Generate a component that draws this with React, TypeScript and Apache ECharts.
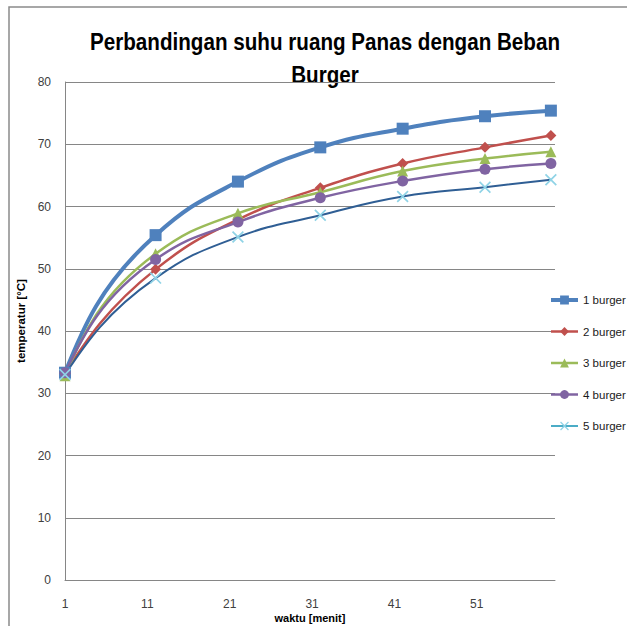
import React, { useEffect, useRef } from "react";
import * as echarts from "echarts";

const time = [1, 12, 22, 32, 42, 52, 60];
const burger1 = [33.3, 55.4, 64.0, 69.5, 72.5, 74.5, 75.4];
const burger2 = [33.2, 49.9, 57.9, 63.0, 66.9, 69.5, 71.4];
const burger3 = [32.8, 52.4, 58.9, 62.3, 65.7, 67.7, 68.8];
const burger4 = [33.3, 51.5, 57.5, 61.4, 64.1, 66.0, 66.9];
const burger5 = [33.0, 48.5, 55.1, 58.6, 61.6, 63.1, 64.3];
const seriesNames = ["1 burger", "2 burger", "3 burger", "4 burger", "5 burger"];
const yTicks = [0, 10, 20, 30, 40, 50, 60, 70, 80];
const titleLines = ["Perbandingan suhu ruang Panas dengan Beban", "Burger"];

const crossPath =
  "path://M0,1L1,0L5,4L9,0L10,1L6,5L10,9L9,10L5,6L1,10L0,9L4,5Z";

const pairs = (ys: number[]) => time.map((t, i) => [t, ys[i]]);

// Excel-like smoothed curve drawn through the axis scales (api.coord)
const K = 0.45;
function curveSeries(ys: number[], color: string, width: number) {
  return {
    type: "custom",
    name: "curve",
    coordinateSystem: "cartesian2d",
    silent: true,
    z: 2,
    data: pairs(ys),
    encode: { x: 0, y: 1 },
    renderItem: (params: any, api: any) => {
      const i = params.dataIndex;
      const n = ys.length;
      if (i >= n - 1) return null;
      const P = time.map((t, j) => api.coord([t, ys[j]]));
      const dist = (a: number[], b: number[]) => Math.hypot(b[0] - a[0], b[1] - a[1]);
      const tangent = (j: number) => {
        const d1 = dist(P[j - 1], P[j]);
        const d2 = dist(P[j], P[j + 1]);
        const u1 = [(P[j][0] - P[j - 1][0]) / d1, (P[j][1] - P[j - 1][1]) / d1];
        const u2 = [(P[j + 1][0] - P[j][0]) / d2, (P[j + 1][1] - P[j][1]) / d2];
        const tx = u1[0] * d2 + u2[0] * d1;
        const ty = u1[1] * d2 + u2[1] * d1;
        const l = Math.hypot(tx, ty) || 1;
        return [tx / l, ty / l];
      };
      const a = P[i];
      const b = P[i + 1];
      const seg = dist(a, b);
      let c1: number[] | null = null;
      let c2: number[] | null = null;
      if (i > 0) {
        const t = tangent(i);
        c1 = [a[0] + t[0] * K * seg, a[1] + t[1] * K * seg];
      }
      if (i + 1 < n - 1) {
        const t = tangent(i + 1);
        c2 = [b[0] - t[0] * K * seg, b[1] - t[1] * K * seg];
      }
      if (!c1 && c2) c1 = [(a[0] + c2[0]) / 2, (a[1] + c2[1]) / 2];
      if (!c2 && c1) c2 = [(b[0] + c1[0]) / 2, (b[1] + c1[1]) / 2];
      if (!c1 || !c2) {
        c1 = a;
        c2 = b;
      }
      return {
        type: "bezierCurve",
        shape: {
          x1: a[0],
          y1: a[1],
          cpx1: c1[0],
          cpy1: c1[1],
          cpx2: c2[0],
          cpy2: c2[1],
          x2: b[0],
          y2: b[1],
        },
        style: { stroke: color, lineWidth: width, fill: null, lineCap: "round" },
      };
    },
  };
}

export default function App() {
  const ref = useRef<HTMLDivElement>(null);
  useEffect(() => {
    if (!ref.current) return;
    const chart = echarts.init(ref.current, undefined, { renderer: "svg" });
    const font = "'Liberation Sans', Arial, sans-serif";
    const mk = (
      name: string,
      data: number[],
      color: string,
      symbol: string,
      size: number
    ) => ({
      name,
      type: "line",
      z: 3,
      data: pairs(data),
      symbol,
      symbolSize: size,
      showAllSymbol: true,
      itemStyle: { color },
      lineStyle: { color, width: 0, opacity: 0 },
      emphasis: { disabled: true },
    });
    const specs = [
      { name: seriesNames[0], data: burger1, color: "#4F81BD", line: "#4F81BD", w: 4, sym: "rect", size: 12 },
      { name: seriesNames[1], data: burger2, color: "#C0504D", line: "#C0504D", w: 2.5, sym: "diamond", size: 11 },
      { name: seriesNames[2], data: burger3, color: "#9BBB59", line: "#9BBB59", w: 2.5, sym: "triangle", size: 11 },
      { name: seriesNames[3], data: burger4, color: "#8064A2", line: "#8064A2", w: 2.5, sym: "circle", size: 11 },
      { name: seriesNames[4], data: burger5, color: "#8FD3E6", line: "#2F5E94", w: 2, sym: crossPath, size: 12 },
    ];
    const legendLine = ["#4F81BD", "#C0504D", "#9BBB59", "#8064A2", "#4BACC6"];
    chart.setOption({
      animation: false,
      backgroundColor: "#ffffff",
      graphic: [
        {
          type: "rect",
          shape: { x: 9, y: 7, width: 700, height: 700 },
          style: { fill: "none", stroke: "#8a8a8a", lineWidth: 1.5 },
          silent: true,
        },
        {
          type: "text",
          x: 325,
          y: 42,
          scaleX: 0.86,
          silent: true,
          style: {
            text: titleLines[0],
            fontFamily: "'Liberation Sans', Arial, sans-serif",
            fontSize: 24,
            fontWeight: "bold",
            fill: "#000000",
            align: "center",
            verticalAlign: "middle",
          },
        },
        {
          type: "text",
          x: 325,
          y: 75,
          scaleX: 0.86,
          silent: true,
          style: {
            text: titleLines[1],
            fontFamily: "'Liberation Sans', Arial, sans-serif",
            fontSize: 24,
            fontWeight: "bold",
            fill: "#000000",
            align: "center",
            verticalAlign: "middle",
          },
        },
      ],
      legend: {
        orient: "vertical",
        left: 549,
        top: 294,
        padding: 0,
        itemWidth: 27,
        itemHeight: 11,
        itemGap: 19.5,
        textStyle: { fontFamily: font, fontSize: 11.5, color: "#1a1a1a" },
        data: specs.map((s, i) => ({
          name: s.name,
          lineStyle: { color: legendLine[i], width: s.w, opacity: 1 },
        })),
      },
      grid: {
        left: 65,
        right: 72,
        top: 82,
        bottom: 46,
        containLabel: false,
        outerBoundsMode: "none",
      },
      xAxis: {
        type: "value",
        min: 1,
        max: 60.5,
        interval: 10,
        name: "waktu [menit]",
        nameLocation: "middle",
        nameGap: 32,
        nameMoveOverlap: false,
        nameTextStyle: { fontFamily: font, fontSize: 11, fontWeight: "bold", color: "#000" },
        axisLine: { show: true, lineStyle: { color: "#868686", width: 1 } },
        axisTick: { show: false },
        splitLine: { show: false },
        axisLabel: {
          margin: 18,
          showMaxLabel: false,
          fontFamily: font,
          fontSize: 12,
          color: "#404040",
        },
      },
      yAxis: {
        type: "value",
        min: yTicks[0],
        max: yTicks[yTicks.length - 1],
        interval: 10,
        name: "temperatur [°C]",
        nameLocation: "middle",
        nameGap: 38,
        nameMoveOverlap: false,
        nameTextStyle: {
          fontFamily: font,
          fontSize: 11.5,
          fontWeight: "bold",
          color: "#000",
          padding: [0, 0, 0, 20],
        },
        axisLine: { show: true, lineStyle: { color: "#868686", width: 1 } },
        axisTick: { show: false },
        splitLine: { show: true, lineStyle: { color: "#868686", width: 1 } },
        axisLabel: { margin: 14, fontFamily: font, fontSize: 12, color: "#404040" },
      },
      series: [
        ...specs.map((s) => curveSeries(s.data, s.line, s.w)),
        ...specs.map((s) => mk(s.name, s.data, s.color, s.sym, s.size)),
      ],
    });
    return () => chart.dispose();
  }, []);
  return (
    <div
      ref={ref}
      style={{ position: "fixed", left: 0, top: 0, width: 627, height: 626 }}
    />
  );
}
